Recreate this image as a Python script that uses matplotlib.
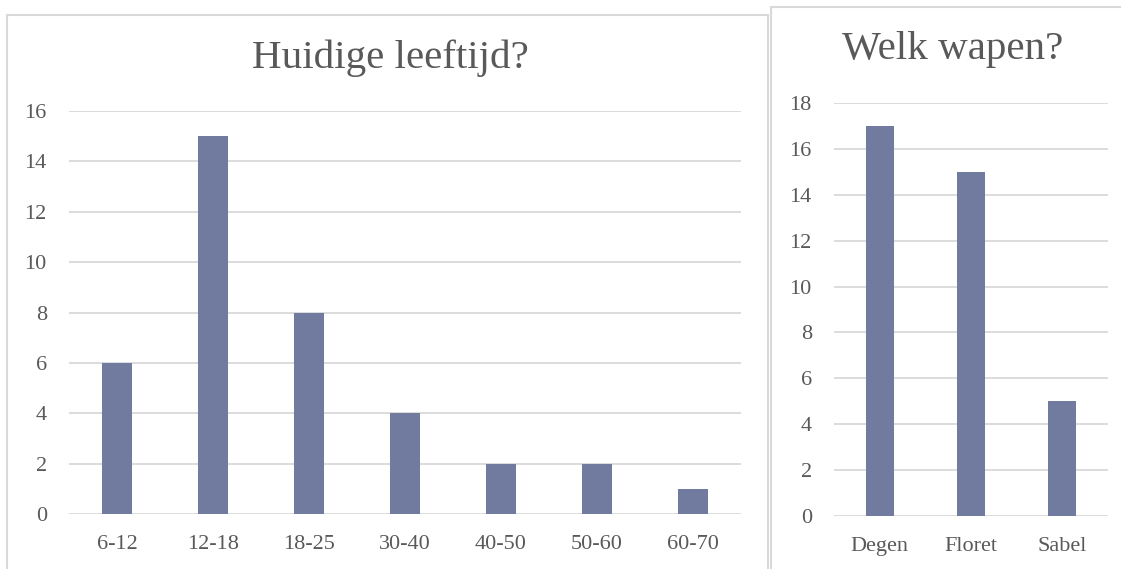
import matplotlib
matplotlib.use("Agg")
import matplotlib.pyplot as plt
from matplotlib.patches import Rectangle

age_categories = ["6-12", "12-18", "18-25", "30-40", "40-50", "50-60", "60-70"]
age_counts = [6, 15, 8, 4, 2, 2, 1]
age_yticks = [0, 2, 4, 6, 8, 10, 12, 14, 16]

weapon_categories = ["Degen", "Floret", "Sabel"]
weapon_counts = [17, 15, 5]
weapon_yticks = [0, 2, 4, 6, 8, 10, 12, 14, 16, 18]

BAR = "#717BA0"
GRID = "#D9D9D9"
TXT = "#595959"
FONT = "Liberation Serif"

W, H = 1121, 569
fig = plt.figure(figsize=(W / 100, H / 100), dpi=100)
fig.patch.set_facecolor("white")

def fx(px):
    return px / W

def fy(py):
    return 1 - py / H

# panel borders
fig.patches.append(Rectangle((fx(7), fy(575)), fx(768) - fx(7), fy(15) - fy(575),
                             transform=fig.transFigure, fill=False, edgecolor=GRID, lw=1.5))
fig.patches.append(Rectangle((fx(771), fy(575)), fx(1130) - fx(771), fy(7) - fy(575),
                             transform=fig.transFigure, fill=False, edgecolor=GRID, lw=1.5))

def style(ax, cats, vals, yt, ymax):
    x = range(len(cats))
    ax.bar(x, vals, width=0.31, color=BAR, zorder=3)
    ax.set_xlim(-0.5, len(cats) - 0.5)
    ax.set_ylim(0, ymax)
    ax.set_yticks(yt)
    ax.set_xticks(list(x))
    ax.set_xticklabels(cats)
    ax.yaxis.grid(True, color=GRID, lw=1.3, zorder=0)
    ax.set_axisbelow(True)
    for s in ax.spines.values():
        s.set_visible(False)
    ax.tick_params(axis="both", length=0, labelsize=16, labelcolor=TXT)
    ax.tick_params(axis="y", pad=16)
    ax.tick_params(axis="x", pad=15)
    for lab in ax.get_xticklabels() + ax.get_yticklabels():
        lab.set_family(FONT)

ax1 = fig.add_axes([fx(69), fy(514), fx(741) - fx(69), fy(111) - fy(514)])
style(ax1, age_categories, age_counts, age_yticks, 16)

ax2 = fig.add_axes([fx(834), fy(516), fx(1108) - fx(834), fy(103) - fy(516)])
style(ax2, weapon_categories, weapon_counts, weapon_yticks, 18)

fig.text(fx(390), fy(58), "Huidige leeftijd?", ha="center", va="center",
         fontsize=29.5, color=TXT, family=FONT)
fig.text(fx(953), fy(50), "Welk wapen?", ha="center", va="center",
         fontsize=29.5, color=TXT, family=FONT)

fig.savefig("out.png", dpi=100)
